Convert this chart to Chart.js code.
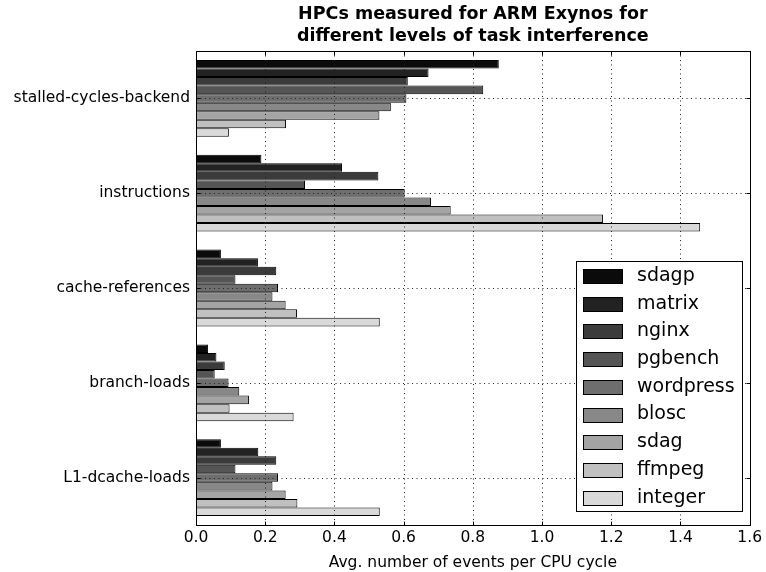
<!DOCTYPE html>
<html>
<head>
<meta charset="utf-8">
<script src="https://cdn.jsdelivr.net/npm/chart.js@4"></script>
<style>
  html, body { margin: 0; padding: 0; background: #fff; }
  #wrap { width: 766px; height: 572px; }
</style>
</head>
<body>
<div id="wrap"><canvas id="hpc" width="766" height="572"></canvas></div>
<script>
const EVENTS = ["stalled-cycles-backend", "instructions", "cache-references", "branch-loads", "L1-dcache-loads"];

// avg events per CPU cycle, one value per event above
const sdagp     = [0.875, 0.189, 0.072, 0.035, 0.072];
const matrix    = [0.672, 0.422, 0.179, 0.059, 0.180];
const nginx     = [0.612, 0.527, 0.232, 0.083, 0.232];
const pgbench   = [0.830, 0.315, 0.114, 0.054, 0.114];
const wordpress = [0.608, 0.603, 0.237, 0.094, 0.237];
const blosc     = [0.563, 0.679, 0.221, 0.125, 0.221];
const sdag      = [0.530, 0.736, 0.259, 0.153, 0.259];
const ffmpeg    = [0.260, 1.176, 0.292, 0.097, 0.293];
const integer   = [0.095, 1.457, 0.531, 0.282, 0.531];

const X_TICKS = [0, 0.2, 0.4, 0.6, 0.8, 1.0, 1.2, 1.4, 1.6];

const series = [
  ["sdagp", sdagp, "#0b0b0b"],
  ["matrix", matrix, "#222222"],
  ["nginx", nginx, "#3b3b3b"],
  ["pgbench", pgbench, "#555555"],
  ["wordpress", wordpress, "#6e6e6e"],
  ["blosc", blosc, "#888888"],
  ["sdag", sdag, "#a4a4a4"],
  ["ffmpeg", ffmpeg, "#c0c0c0"],
  ["integer", integer, "#d9d9d9"],
];

const FONT = "'DejaVu Sans', sans-serif";

// dotted grid over the bars, like the old matplotlib look
const dottedGrid = {
  id: "dottedGrid",
  afterDatasetsDraw(chart) {
    const { ctx, chartArea: a, scales } = chart;
    ctx.save();
    ctx.strokeStyle = "#222";
    ctx.lineWidth = 1;
    ctx.setLineDash([1, 3.5]);
    ctx.beginPath();
    scales.x.ticks.forEach((t, i) => {
      const px = Math.round(scales.x.getPixelForTick(i)) + 0.5;
      ctx.moveTo(px, a.top); ctx.lineTo(px, a.bottom);
    });
    scales.y.ticks.forEach((t, i) => {
      const py = Math.round(scales.y.getPixelForTick(i)) + 0.5;
      ctx.moveTo(a.left, py); ctx.lineTo(a.right, py);
    });
    ctx.stroke();
    ctx.restore();
  }
};

// title, axes frame, inward tick marks and boxed legend
const decor = {
  id: "decor",
  afterDraw(chart) {
    const { ctx, chartArea: a, scales } = chart;
    ctx.save();

    ctx.fillStyle = "#000";
    ctx.textAlign = "center";
    ctx.textBaseline = "middle";
    ctx.font = "bold 17.5px " + FONT;
    const cx = (a.left + a.right) / 2;
    ctx.fillText("HPCs measured for ARM Exynos for", cx, 14);
    ctx.fillText("different levels of task interference", cx, 36);

    ctx.strokeStyle = "#000";
    ctx.lineWidth = 1;
    ctx.setLineDash([]);
    const L = Math.round(a.left) + 0.5, R = Math.round(a.right) + 0.5;
    const T = Math.round(a.top) + 0.5, B = Math.round(a.bottom) + 0.5;
    ctx.strokeRect(L, T, R - L, B - T);

    ctx.beginPath();
    scales.x.ticks.forEach((t, i) => {
      const px = Math.round(scales.x.getPixelForTick(i)) + 0.5;
      ctx.moveTo(px, B); ctx.lineTo(px, B - 4);
      ctx.moveTo(px, T); ctx.lineTo(px, T + 4);
    });
    scales.y.ticks.forEach((t, i) => {
      const py = Math.round(scales.y.getPixelForTick(i)) + 0.5;
      ctx.moveTo(L, py); ctx.lineTo(L + 4, py);
      ctx.moveTo(R, py); ctx.lineTo(R - 4, py);
    });
    ctx.stroke();

    const bx = 576.5, by = 261.5, bw = 166, bh = 250;
    ctx.fillStyle = "#fff";
    ctx.fillRect(bx, by, bw, bh);
    ctx.strokeRect(bx, by, bw, bh);
    ctx.font = "19px " + FONT;
    ctx.textAlign = "left";
    chart.data.datasets.forEach((ds, i) => {
      const yc = 276 + i * 27.7;
      ctx.fillStyle = ds.backgroundColor;
      ctx.fillRect(583.5, Math.round(yc - 7) + 0.5, 39, 14);
      ctx.strokeRect(583.5, Math.round(yc - 7) + 0.5, 39, 14);
      ctx.fillStyle = "#000";
      ctx.fillText(ds.label, 637, yc);
    });
    ctx.restore();
  }
};

new Chart(document.getElementById("hpc"), {
  type: "bar",
  data: {
    labels: EVENTS,
    datasets: series.map(([label, data, color]) => ({
      label, data,
      backgroundColor: color,
      borderColor: "#000",
      borderWidth: 1,
      borderSkipped: false,
      categoryPercentage: 0.81,
      barPercentage: 1.0,
    })),
  },
  options: {
    indexAxis: "y",
    responsive: false,
    animation: false,
    devicePixelRatio: 1,
    layout: { padding: { top: 51, right: 16, left: 0, bottom: 0 } },
    plugins: { legend: { display: false }, title: { display: false }, tooltip: { enabled: false } },
    scales: {
      x: {
        type: "linear",
        min: 0, max: 1.6,
        afterBuildTicks: s => { s.ticks = X_TICKS.map(v => ({ value: v })); },
        afterFit: s => { s.height = 47; },
        ticks: {
          color: "#000", font: { family: FONT, size: 15.5 }, padding: 4,
          maxRotation: 0, autoSkip: false,
          callback: v => Number(v).toFixed(1),
        },
        grid: { display: false, drawTicks: false, tickLength: 0 },
        border: { display: false },
        title: { display: true, text: "Avg. number of events per CPU cycle", color: "#000", font: { family: FONT, size: 15.5 }, padding: { top: 0, bottom: 0 } },
      },
      y: {
        type: "category",
        offset: true,
        afterFit: s => { s.width = 196; },
        ticks: { color: "#000", font: { family: FONT, size: 15.5 }, padding: 6, autoSkip: false },
        grid: { display: false, offset: false, drawTicks: false, tickLength: 0 },
        border: { display: false },
      },
    },
  },
  plugins: [dottedGrid, decor],
});
</script>
</body>
</html>
